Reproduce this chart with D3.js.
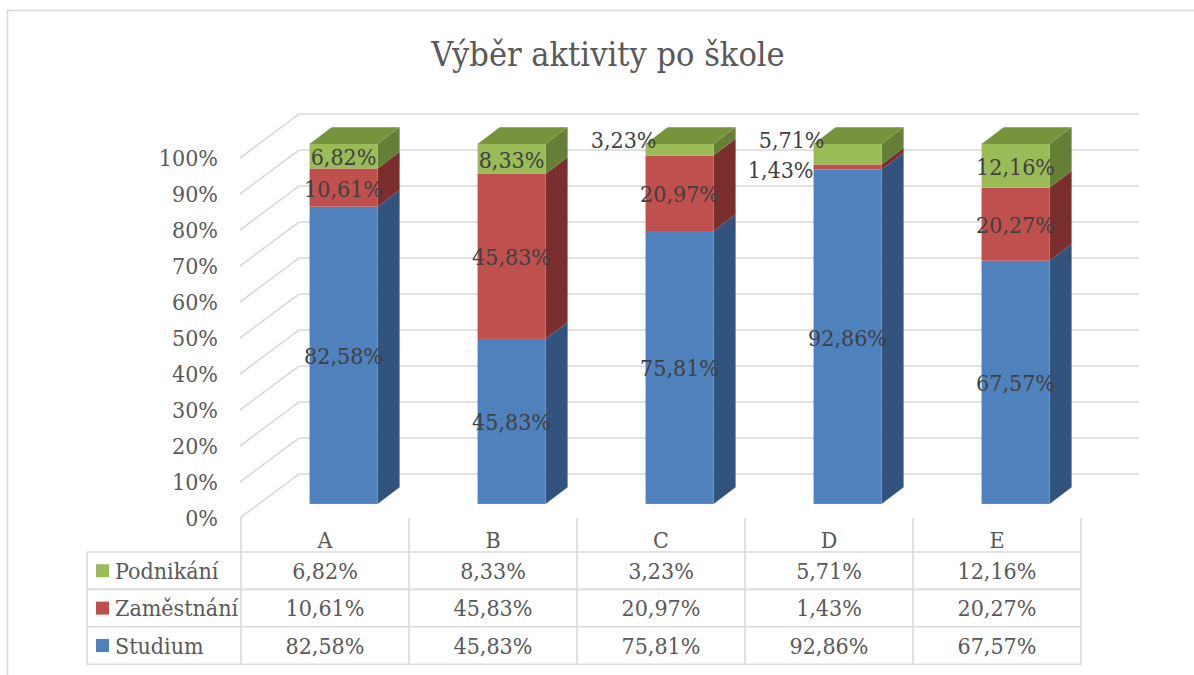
<!DOCTYPE html>
<html>
<head>
<meta charset="utf-8">
<script src="https://cdn.jsdelivr.net/npm/d3@7"></script>
<style>
  body { margin: 0; background: #fff; }
  svg text { font-family: "DejaVu Serif Condensed", "DejaVu Serif", serif; font-stretch: condensed; }
</style>
</head>
<body>
<svg id="chart" width="1194" height="675"></svg>
<script>
// Data (values in %)
const categories = ["A", "B", "C", "D", "E"];
const seriesNames = ["Studium", "Zaměstnání", "Podnikání"];   // stack order, bottom to top
const studium    = [82.58, 45.83, 75.81, 92.86, 67.57];
const zamestnani = [10.61, 45.83, 20.97, 1.43, 20.27];
const podnikani  = [6.82, 8.33, 3.23, 5.71, 12.16];
const yTicks = [0, 0.1, 0.2, 0.3, 0.4, 0.5, 0.6, 0.7, 0.8, 0.9, 1];
const tableRows = ["Podnikání", "Zaměstnání", "Studium"];     // table order, top to bottom

const colors = {
  "Studium":    { front: "#4f81bd", side: "#32537d", top: "#3f6797" },
  "Zaměstnání": { front: "#c0504d", side: "#7a2f2e", top: "#9a403e" },
  "Podnikání":  { front: "#9bbb59", side: "#667f36", top: "#77933c" }
};

const svg = d3.select("#chart");
const W = 1194, H = 675;

// 3D projection settings
const depthX = 58, depthY = 44;        // full depth of the plot box
const barF0 = 0.32, barF1 = 0.70;      // bar position inside depth

const table = { left: 87, top: 552, rowH: 37.4 };

const rows = categories.map((c, i) => ({
  cat: c, "Studium": studium[i], "Zaměstnání": zamestnani[i], "Podnikání": podnikani[i]
}));

const stacked = d3.stack().keys(seriesNames).offset(d3.stackOffsetExpand)(rows);

const x = d3.scaleBand().domain(categories).range([241, 1081]).padding(0);
const y = d3.scaleLinear().domain([0, 1]).range([518, 158]);

const fmt = v => d3.format(".2f")(v).replace(".", ",") + "%";

// chart border
svg.append("rect")
  .attr("x", 7.5).attr("y", 10.5)
  .attr("width", W).attr("height", H)
  .attr("fill", "none").attr("stroke", "#d9d9d9").attr("stroke-width", 1.5);

// Title
svg.append("text")
  .attr("x", 608).attr("y", 66)
  .attr("text-anchor", "middle")
  .attr("font-size", 34)
  .attr("fill", "#595959")
  .text("Výběr aktivity po škole");

// Gridlines: side wall diagonal + back wall
const x0 = x.range()[0], x1 = x.range()[1];
svg.append("g").selectAll("path")
  .data(yTicks)
  .join("path")
  .attr("d", t => `M${x0 - 1},${y(t)} L${x0 + depthX},${y(t) - depthY} L${x1 + depthX},${y(t) - depthY}`)
  .attr("fill", "none")
  .attr("stroke", "#d9d9d9")
  .attr("stroke-width", 1.6);

// Y axis labels
svg.append("g").selectAll("text")
  .data(yTicks)
  .join("text")
  .attr("x", 218)
  .attr("y", t => y(t) + 8)
  .attr("text-anchor", "end")
  .attr("font-size", 23)
  .attr("fill", "#595959")
  .text(d3.format(".0%"));

// Bars
const bw = 68;
const ox = depthX * barF0, oy = depthY * barF0;
const dx = depthX * (barF1 - barF0), dy = depthY * (barF1 - barF0);
const barLeft = c => x(c) + x.bandwidth() / 2 - bw / 2 + ox;

const barsG = svg.append("g");
stacked.forEach((s, si) => {
  const col = colors[s.key];
  const isTop = si === stacked.length - 1;
  s.forEach(d => {
    const c = d.data.cat;
    const xl = barLeft(c), xr = xl + bw;
    const yb = y(d[0]) - oy, yt = y(d[1]) - oy;
    // side face
    barsG.append("path")
      .attr("d", `M${xr},${yb} L${xr + dx},${yb - dy} L${xr + dx},${yt - dy} L${xr},${yt} Z`)
      .attr("fill", col.side);
    // front face
    barsG.append("rect")
      .attr("x", xl).attr("y", yt)
      .attr("width", bw).attr("height", yb - yt)
      .attr("fill", col.front);
    if (isTop) {
      barsG.append("path")
        .attr("d", `M${xl},${yt} L${xl + dx},${yt - dy} L${xr + dx},${yt - dy} L${xr},${yt} Z`)
        .attr("fill", col.top);
    }
  });
});

// Data labels (small segments are moved to the left of the bar)
const labelsG = svg.append("g");
stacked.forEach((s, si) => {
  const isTop = si === stacked.length - 1;
  s.forEach((d, i) => {
    const c = d.data.cat;
    const v = d.data[s.key];
    const xl = barLeft(c);
    const yb = y(d[0]) - oy, yt = y(d[1]) - oy;
    const small = v < 6;
    labelsG.append("text")
      .attr("x", small ? xl + (isTop ? 11 : 0) : xl + bw / 2)
      .attr("y", small ? (isTop ? yt + 4 : (yb + yt) / 2 + 11) : (yb + yt) / 2 + 9)
      .attr("text-anchor", small ? "end" : "middle")
      .attr("font-size", 23)
      .attr("fill", "#404040")
      .text(fmt(v));
  });
});

// Data table
const tg = svg.append("g");
const rowY = i => table.top + i * table.rowH;
const tableBottom = rowY(tableRows.length);
const lineStyle = sel => sel.attr("stroke", "#d9d9d9").attr("stroke-width", 1.6);

// vertical column lines
categories.concat(["_end"]).forEach((c, i) => {
  const xx = x0 + i * x.bandwidth();
  tg.append("line").attr("x1", xx).attr("x2", xx)
    .attr("y1", y(0)).attr("y2", tableBottom).call(lineStyle);
});
tg.append("line").attr("x1", table.left).attr("x2", table.left)
  .attr("y1", table.top).attr("y2", tableBottom).call(lineStyle);
// horizontal lines
d3.range(tableRows.length + 1).forEach(i => {
  tg.append("line").attr("x1", table.left).attr("x2", x1)
    .attr("y1", rowY(i)).attr("y2", rowY(i)).call(lineStyle);
});

// category header
tg.selectAll("text.cat")
  .data(categories)
  .join("text")
  .attr("class", "cat")
  .attr("x", c => x(c) + x.bandwidth() / 2)
  .attr("y", 548)
  .attr("text-anchor", "middle")
  .attr("font-size", 23)
  .attr("fill", "#595959")
  .text(c => c);

const seriesValues = { "Podnikání": podnikani, "Zaměstnání": zamestnani, "Studium": studium };
tableRows.forEach((name, ri) => {
  const cy = rowY(ri) + table.rowH / 2;
  tg.append("rect")
    .attr("x", 96).attr("y", cy - 6.5)
    .attr("width", 13).attr("height", 13)
    .attr("fill", colors[name].front);
  tg.append("text")
    .attr("x", 115).attr("y", cy + 8)
    .attr("font-size", 23)
    .attr("fill", "#595959")
    .text(name);
  seriesValues[name].forEach((v, ci) => {
    tg.append("text")
      .attr("x", x(categories[ci]) + x.bandwidth() / 2)
      .attr("y", cy + 8)
      .attr("text-anchor", "middle")
      .attr("font-size", 23)
      .attr("fill", "#595959")
      .text(fmt(v));
  });
});
</script>
</body>
</html>
